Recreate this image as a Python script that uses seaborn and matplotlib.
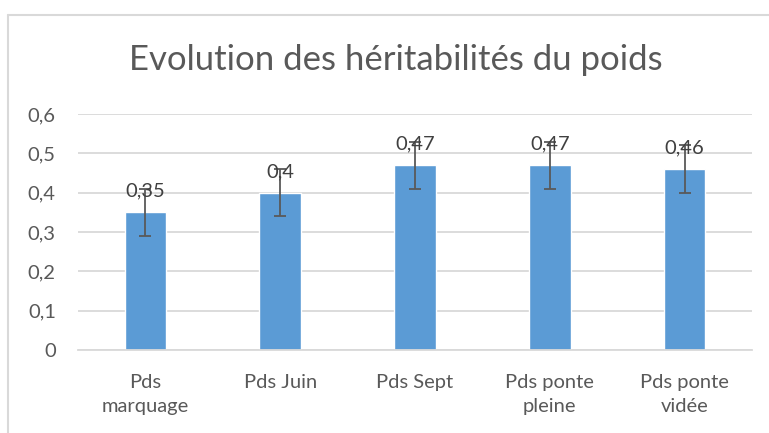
import matplotlib
matplotlib.use("Agg")
import matplotlib.pyplot as plt
import seaborn as sns
import pandas as pd
from matplotlib.lines import Line2D

# --- Données ---
categories = ["Pds\nmarquage", "Pds Juin", "Pds Sept", "Pds ponte\npleine", "Pds ponte\nvidée"]
heritabilites = [0.35, 0.40, 0.47, 0.47, 0.46]
erreurs = [0.06, 0.06, 0.06, 0.06, 0.06]
etiquettes = ["0,35", "0,4", "0,47", "0,47", "0,46"]
ticks_y = [0, 0.1, 0.2, 0.3, 0.4, 0.5, 0.6]
ticks_y_txt = ["0", "0,1", "0,2", "0,3", "0,4", "0,5", "0,6"]

BLEU = "#5B9BD5"
GRIS_TXT = "#595959"
GRIS_GRILLE = "#D9D9D9"

sns.set_style("white")
plt.rcParams["font.family"] = ["Lato", "DejaVu Sans"]

df = pd.DataFrame({"cat": categories, "h": heritabilites})

W, H = 769, 433
fig = plt.figure(figsize=(W / 100, H / 100), dpi=100)
ax = fig.add_axes([78 / W, 1 - 350 / H, (752 - 78) / W, (350 - 114) / H])

sns.barplot(data=df, x="cat", y="h", color=BLEU, width=0.31, saturation=1, ax=ax, zorder=2)
ax.errorbar(range(len(categories)), heritabilites, yerr=erreurs, fmt="none",
            ecolor=GRIS_TXT, elinewidth=1.3, capsize=4, capthick=1.3, zorder=3)
ax.bar_label(ax.containers[0], labels=etiquettes, padding=9, fontsize=14.5,
             color="#404040", zorder=4)

ax.set_ylim(0, 0.6)
ax.set_yticks(ticks_y)
ax.set_yticklabels(ticks_y_txt)
ax.yaxis.grid(True, color=GRIS_GRILLE, linewidth=1.3)
ax.set_axisbelow(True)
ax.set_xlim(-0.5, len(categories) - 0.5)
ax.tick_params(axis="y", length=0, pad=16, labelsize=14.5, labelcolor=GRIS_TXT)
ax.tick_params(axis="x", length=0, pad=17, labelsize=14.5, labelcolor=GRIS_TXT)
for lbl in ax.get_xticklabels():
    lbl.set_linespacing(1.5)
ax.set_xlabel("")
ax.set_ylabel("")
for s in ["top", "right", "left"]:
    ax.spines[s].set_visible(False)
ax.spines["bottom"].set_color(GRIS_GRILLE)
ax.spines["bottom"].set_linewidth(1.3)

fig.text(396 / W, 1 - 60 / H, "Evolution des héritabilités du poids", ha="center", va="center",
         fontsize=25, color=GRIS_TXT)

# cadre du graphique
fig.add_artist(Line2D([8 / W, 1], [1 - 15 / H, 1 - 15 / H], color=GRIS_GRILLE, lw=1.5))
fig.add_artist(Line2D([8 / W, 8 / W], [0, 1 - 15 / H], color=GRIS_GRILLE, lw=1.5))

fig.savefig("out.png", dpi=100)
